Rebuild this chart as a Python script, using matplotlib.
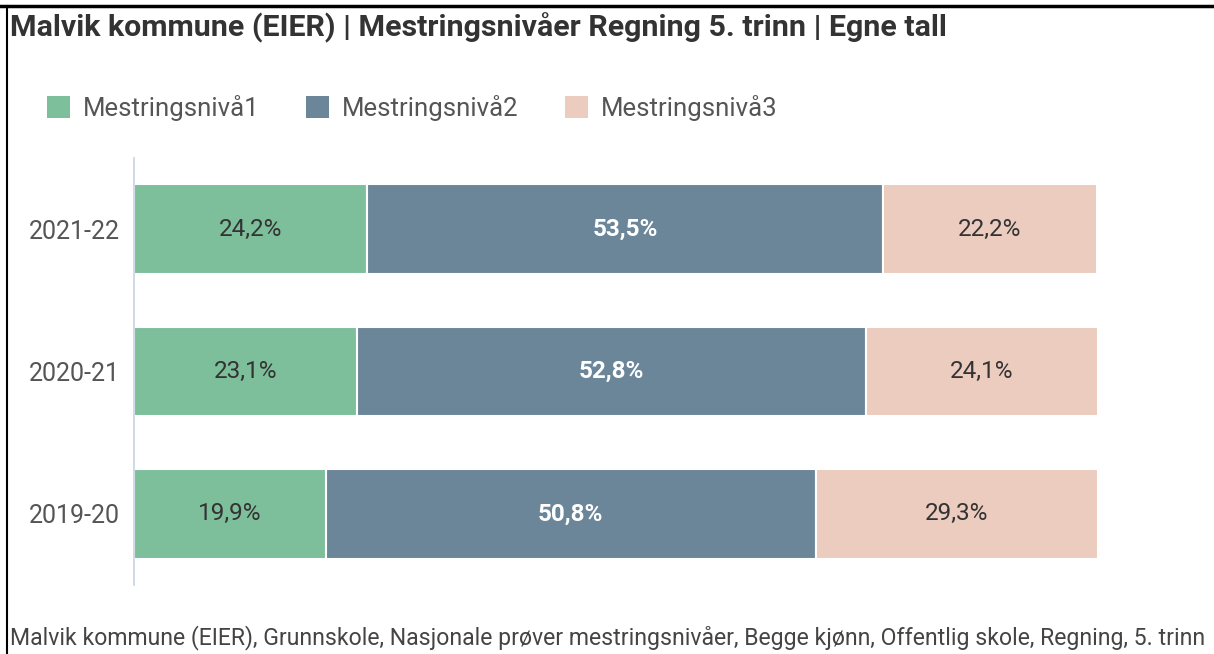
import matplotlib.pyplot as plt
from matplotlib.lines import Line2D
from matplotlib.patches import Patch

plt.rcParams['font.family'] = ['Roboto', 'DejaVu Sans']

years = ['2019-20', '2020-21', '2021-22']
niva1 = [19.9, 23.1, 24.2]
niva2 = [50.8, 52.8, 53.5]
niva3 = [29.3, 24.1, 22.2]
series_names = ['Mestringsnivå1', 'Mestringsnivå2', 'Mestringsnivå3']
colors = ['#7dbf9b', '#6b8599', '#ecccbf']
label_colors = ['#333333', 'white', '#333333']

fig = plt.figure(figsize=(12.14, 6.54), dpi=100)
ax = fig.add_axes([0.1104, 0.1055, 0.794, 0.653])

left = [0, 0, 0]
for vals, col, lc in zip([niva1, niva2, niva3], colors, label_colors):
    bars = ax.barh(years, vals, left=left, height=0.63, color=col,
                   edgecolor='white', linewidth=1.5)
    for b, v in zip(bars, vals):
        ax.text(b.get_x() + b.get_width() / 2, b.get_y() + b.get_height() / 2,
                f'{v:.1f}%'.replace('.', ','), ha='center', va='center',
                fontsize=17.5, color=lc,
                fontweight='bold' if lc == 'white' else 'normal')
    left = [l + v for l, v in zip(left, vals)]

ax.set_xlim(0, 100)
ax.set_ylim(-0.5, 2.5)
ax.set_xticks([])
for s in ['top', 'right', 'bottom']:
    ax.spines[s].set_visible(False)
ax.spines['left'].set_color('#c9d3e6')
ax.spines['left'].set_linewidth(1.2)
ax.tick_params(axis='y', length=0, pad=10, labelsize=18, labelcolor='#555555')

# title, legend, footer
fig.text(10 / 1214, 1 - 28 / 654, 'Malvik kommune (EIER) | Mestringsnivåer Regning 5. trinn | Egne tall',
         fontsize=21.9, fontweight='bold', color='#333333', va='center', ha='left')
handles = [Patch(facecolor=c, edgecolor='none') for c in colors]
fig.legend(handles, series_names, loc='center left', bbox_to_anchor=(37 / 1214, 1 - 108 / 654),
           ncol=3, frameon=False, fontsize=18.5, handlelength=0.9, handleheight=0.9,
           columnspacing=1.8, handletextpad=0.5, labelcolor='#555555', borderaxespad=0)
fig.text(10 / 1214, 1 - 638 / 654,
         'Malvik kommune (EIER), Grunnskole, Nasjonale prøver mestringsnivåer, Begge kjønn, Offentlig skole, Regning, 5. trinn',
         fontsize=16.6, color='#444444', va='center', ha='left')

# frame lines of the screenshot
fig.add_artist(Line2D([0, 1], [1 - 6 / 654, 1 - 6 / 654], color='black', linewidth=2.5))
fig.add_artist(Line2D([7 / 1214, 7 / 1214], [0, 1 - 6 / 654], color='black', linewidth=1.5))

fig.savefig('out.png', dpi=100)
